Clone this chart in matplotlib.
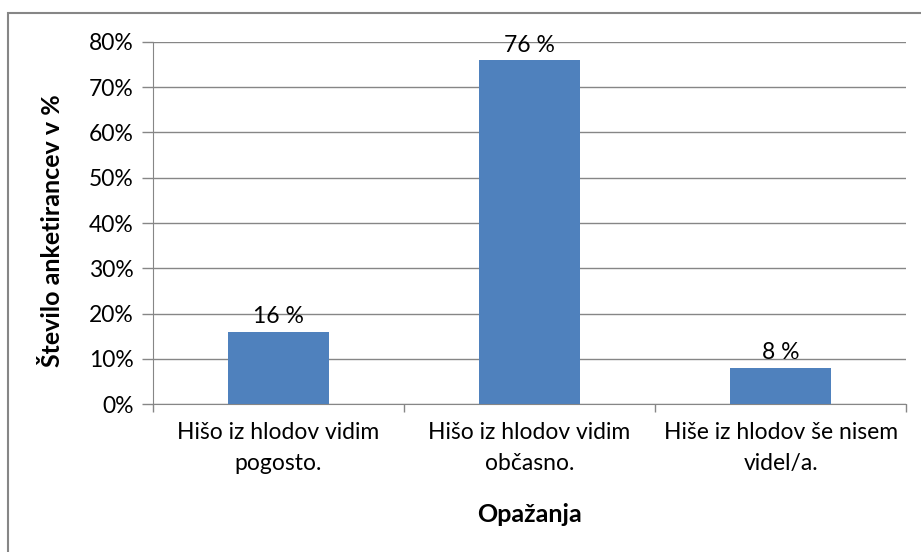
import matplotlib.pyplot as plt
from matplotlib.patches import Rectangle

plt.rcParams['font.family'] = ['Lato', 'DejaVu Sans']

categories = ['Hišo iz hlodov vidim\npogosto.', 'Hišo iz hlodov vidim\nobčasno.', 'Hiše iz hlodov še nisem\nvidel/a.']
values = [16, 76, 8]
labels = ['16 %', '76 %', '8 %']
yticks = [0, 10, 20, 30, 40, 50, 60, 70, 80]

gray = '#868686'

fig = plt.figure(figsize=(9.21, 5.52), dpi=100)
ax = fig.add_axes([0.166, 0.268, 0.818, 0.656])

# outer chart border
fig.patches.append(Rectangle((8 / 921, -0.05), 1.0, 1 - 13 / 552 + 0.05,
                             transform=fig.transFigure, fill=False,
                             edgecolor=gray, linewidth=1.5))

x = range(len(values))
ax.bar(x, values, width=0.4, color='#4F81BD', zorder=3)
for xi, v, lab in zip(x, values, labels):
    ax.text(xi, v + 1.0, lab, ha='center', va='bottom', fontsize=16.5)

ax.set_xlim(-0.5, 2.5)
ax.set_ylim(0, 80)
ax.set_yticks(yticks)
ax.set_yticklabels([f'{t}%' for t in yticks], fontsize=16.5)
ax.yaxis.grid(True, color=gray, linewidth=1)
ax.set_axisbelow(True)

ax.set_xticks(list(x))
ax.set_xticklabels(categories, fontsize=16.5, linespacing=1.6)
ax.set_xticks([-0.5, 0.5, 1.5, 2.5], minor=True)
ax.tick_params(axis='x', which='major', length=0, pad=13)
ax.tick_params(axis='x', which='minor', length=6, color=gray, width=1)
ax.tick_params(axis='y', length=8, color=gray, width=1, pad=6)

for s in ['top', 'right']:
    ax.spines[s].set_visible(False)
ax.spines['left'].set_color(gray)
ax.spines['bottom'].set_color(gray)

ax.set_xlabel('Opažanja', fontsize=18, fontweight='bold')
ax.set_ylabel('Število anketirancev v %', fontsize=18, fontweight='bold')
ax.xaxis.set_label_coords(0.5, -0.273)
ax.yaxis.set_label_coords(-0.118, 0.478)

fig.savefig('out.png', dpi=100)
